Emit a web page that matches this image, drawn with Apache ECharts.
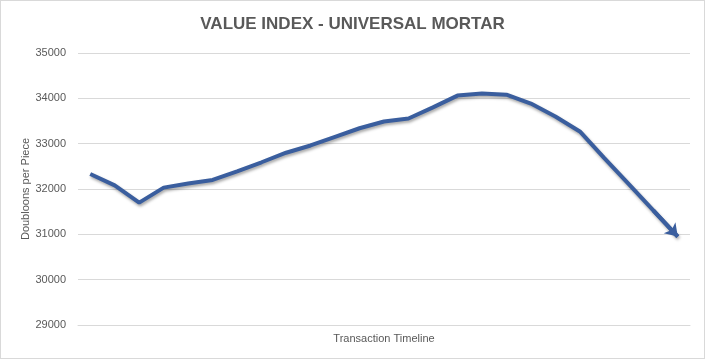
<!DOCTYPE html>
<html>
<head>
<meta charset="utf-8">
<script src="https://cdn.jsdelivr.net/npm/echarts@6/dist/echarts.min.js"></script>
<style>
html,body{margin:0;padding:0;background:#fff;}
#chart{width:705px;height:359px;box-sizing:border-box;border:1px solid #d9d9d9;}
</style>
</head>
<body>
<div id="chart"></div>
<script>
const titleText = 'VALUE INDEX - UNIVERSAL MORTAR';
const xAxisTitle = 'Transaction Timeline';
const yAxisTitle = 'Doubloons per Piece';
const categories = ['1','2','3','4','5','6','7','8','9','10','11','12','13','14','15','16','17','18','19','20','21','22','23','24','25'];
const values = [32330, 32080, 31700, 32030, 32120, 32200, 32390, 32590, 32800, 32960, 33150, 33340, 33490, 33555, 33800, 34060, 34105, 34080, 33885, 33600, 33270, 32680, 32105, 31530, 30950];
const yTicks = {min: 29000, max: 35000, step: 1000};

const chart = echarts.init(document.getElementById('chart'), null, {renderer: 'canvas'});
const lineColor = '#3A5E9E';
const last = values.length - 1;
chart.setOption({
  animation: false,
  title: {
    text: titleText, left: 'center', top: 10,
    textStyle: {fontFamily: 'Liberation Sans', fontWeight: 'bold', fontSize: 17, color: '#595959'}
  },
  grid: {left: 77, right: 14, top: 52, bottom: 33},
  xAxis: {
    type: 'category', data: categories, boundaryGap: true,
    name: xAxisTitle, nameLocation: 'middle', nameGap: 8,
    nameTextStyle: {fontFamily: 'Liberation Sans', fontSize: 11, color: '#595959'},
    axisLine: {show: true, lineStyle: {color: '#d9d9d9'}},
    axisTick: {show: false}, axisLabel: {show: false}
  },
  yAxis: {
    type: 'value', min: yTicks.min, max: yTicks.max, interval: yTicks.step,
    name: yAxisTitle, nameLocation: 'middle', nameGap: 47, nameMoveOverlap: false,
    nameTextStyle: {fontFamily: 'Liberation Sans', fontSize: 11, color: '#595959'},
    axisLine: {show: false}, axisTick: {show: false},
    axisLabel: {fontFamily: 'Liberation Sans', fontSize: 11, color: '#595959', margin: 12, formatter: v => String(v)},
    splitLine: {lineStyle: {color: '#d9d9d9', width: 1}}
  },
  series: [{
    type: 'line', data: values, symbol: 'none', smooth: false,
    lineStyle: {color: lineColor, width: 4, shadowColor: 'rgba(0,0,0,0.35)', shadowBlur: 3, shadowOffsetY: 2, shadowOffsetX: 1},
    markLine: {
      silent: true, symbol: ['none', 'arrow'], symbolSize: 12,
      lineStyle: {color: lineColor, width: 4, type: 'solid', opacity: 1},
      label: {show: false},
      data: [[{coord: [last - 1, values[last - 1]]}, {coord: [last, values[last]]}]]
    }
  }]
});
</script>
</body>
</html>
